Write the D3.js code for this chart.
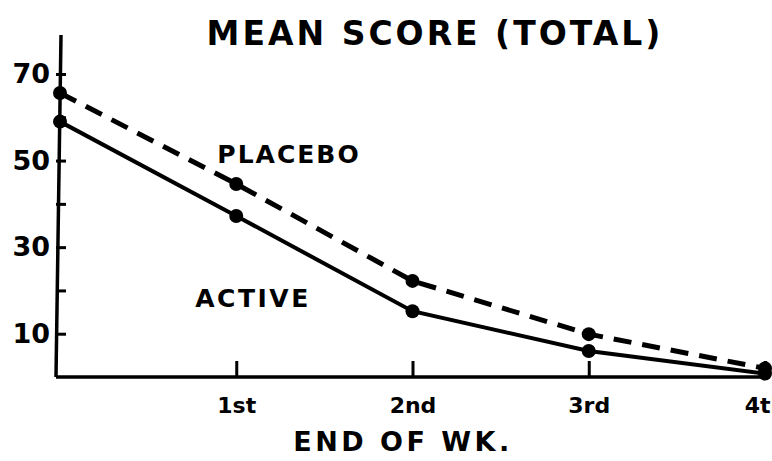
<!DOCTYPE html>
<html><head><meta charset="utf-8">
<script src="https://cdn.jsdelivr.net/npm/d3@7"></script>
<style>body{margin:0;background:#fff;overflow:hidden}svg{display:block}text{font-family:"DejaVu Sans",sans-serif;font-weight:bold;fill:#000}</style>
</head><body><svg id="c" width="772" height="461"></svg>
<script>
const weeks = [0, 1, 2, 3, 4];
const weekLabels = ["", "1st", "2nd", "3rd", "4th"];
const placebo = [65.6, 44.6, 22.2, 9.9, 2.0];
const active = [59.0, 37.2, 15.2, 6.0, 0.8];
const yTicks = [10, 20, 30, 40, 50, 60, 70];
const yLabels = [10, 30, 50, 70];

const svg = d3.select("#c");
const x = d3.scaleLinear().domain([0, 4]).range([60, 765]);
const y = d3.scaleLinear().domain([0, 70]).range([377, 74]);

const xAxis = d3.axisBottom(x).tickValues([1,2,3,4]).tickSize(-16).tickFormat((d)=>weekLabels[d]).tickPadding(16);
const gx = svg.append("g").attr("transform", `translate(0,${y(0)})`).call(xAxis);
gx.select(".domain").attr("d", `M${x(0)-4},0H${x(4)}`).attr("stroke-width",3.5);
gx.selectAll(".tick line").attr("stroke-width",3);
gx.selectAll(".tick text").attr("font-size",22).attr("dy","0.9em");

const yAxis = d3.axisLeft(y).tickValues(yTicks).tickSize(-10).tickFormat(d => yLabels.includes(d) ? d : "").tickPadding(8);
const gy = svg.append("g").attr("transform", `translate(${x(0)-4},0)`).call(yAxis);
gy.select(".domain").attr("d", `M5,35L0,${y(0)}`).attr("stroke-width",3.5);
gy.selectAll(".tick line").attr("stroke-width",3);
gy.selectAll(".tick text").attr("font-size",27).attr("x",-6);

const line = d3.line().x((d,i)=>x(weeks[i])).y(d=>y(d));
svg.append("path").datum(placebo).attr("d", line).attr("fill","none").attr("stroke","#000")
  .attr("stroke-width",5).attr("stroke-dasharray","18,11");
svg.append("path").datum(active).attr("d", line).attr("fill","none").attr("stroke","#000")
  .attr("stroke-width",4);
[placebo, active].forEach(s => {
  svg.append("g").selectAll("circle").data(s).join("circle")
    .attr("cx",(d,i)=>x(weeks[i])).attr("cy",d=>y(d)).attr("r",7).attr("fill","#000");
});

svg.append("text").attr("x",435).attr("y",45).attr("text-anchor","middle").attr("font-size",33)
  .attr("letter-spacing",3).text("MEAN SCORE (TOTAL)");
svg.append("text").attr("x",289).attr("y",163).attr("text-anchor","middle").attr("font-size",25)
  .attr("letter-spacing",2).text("PLACEBO");
svg.append("text").attr("x",253).attr("y",307).attr("text-anchor","middle").attr("font-size",25)
  .attr("letter-spacing",2.5).text("ACTIVE");
svg.append("text").attr("x",403).attr("y",451).attr("text-anchor","middle").attr("font-size",27)
  .attr("letter-spacing",3.5).text("END OF WK.");
</script></body></html>
